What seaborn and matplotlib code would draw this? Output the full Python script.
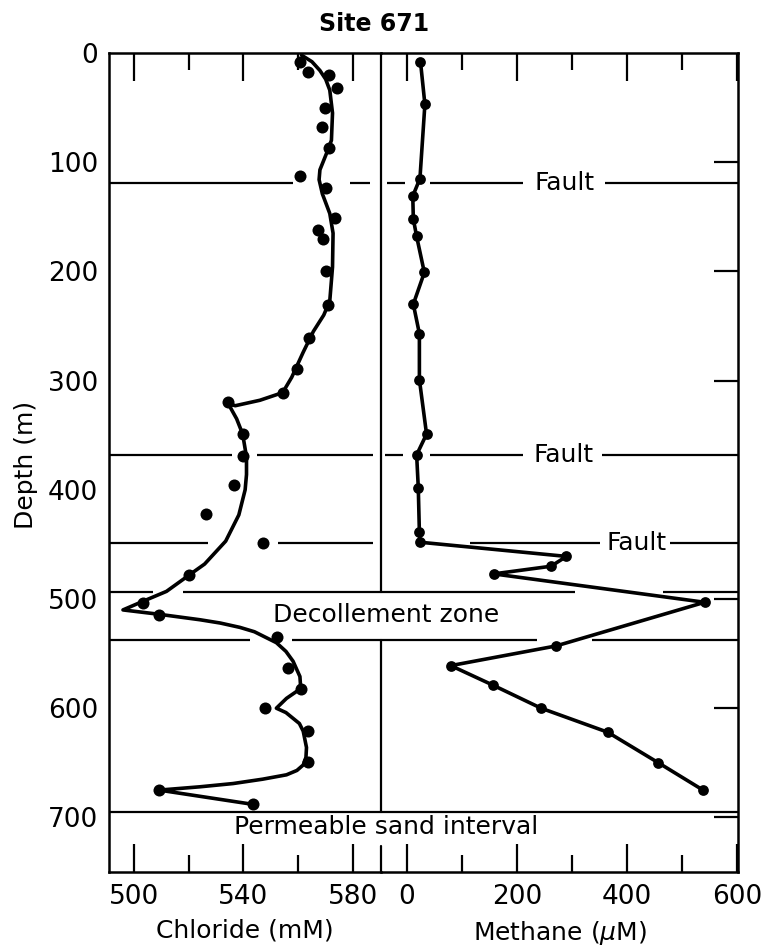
import numpy as np
import pandas as pd
import seaborn as sns
import matplotlib.pyplot as plt

# Chloride samples (depth m, chloride mM)
cl_depth = [8, 17, 20, 32, 50, 68, 87, 113, 124, 151, 162, 170, 200, 231, 261, 289,
            311, 320, 349, 369, 396, 422, 449, 478, 504, 515, 535, 563, 582, 600,
            621, 649, 675, 688]
cl_value = [560.6, 563.6, 571.3, 574.2, 569.7, 568.5, 571.3, 560.6, 570.3, 573.4,
            567.3, 569.1, 570.1, 570.8, 564.0, 559.4, 554.3, 534.4, 539.7, 539.9,
            536.5, 526.3, 547.2, 520.2, 503.4, 509.2, 552.1, 556.3, 560.9, 548.0,
            563.6, 563.6, 509.2, 543.3]

# Hand-drawn chloride trend curve (depth m, chloride mM)
cl_curve_depth = [2, 8, 16, 24, 34, 55, 80, 92, 107, 116, 129, 147, 165, 196, 227,
                  240, 255, 274, 297, 311, 318, 323, 321, 335, 349, 370, 386, 400,
                  423, 447, 468, 478, 493, 502, 510, 514, 519, 522, 526, 530, 540,
                  548, 557, 571, 582, 591, 600, 604, 614, 621, 636, 645, 652, 657,
                  661, 665, 669, 672, 675, 688]
cl_curve_value = [561.2, 565.0, 567.9, 570.0, 571.5, 572.5, 572.1, 570.3, 567.9, 567.6,
                  568.8, 571.5, 572.7, 572.5, 571.5, 569.3, 565.5, 561.8, 557.6, 554.3,
                  546.0, 537.0, 534.4, 537.5, 539.7, 541.1, 541.1, 540.6, 538.3, 533.5,
                  525.8, 520.2, 511.9, 503.4, 496.0, 509.2, 524.1, 531.5, 538.7, 544.0,
                  552.0, 555.5, 558.1, 560.6, 560.9, 555.7, 552.0, 555.5, 560.4, 561.8,
                  563.0, 562.8, 561.8, 559.5, 555.7, 547.0, 536.2, 524.0, 509.2, 543.3]

# Methane samples (depth m, methane uM)
ch4_depth = [8, 47, 115, 131, 152, 168, 201, 230, 257, 299, 349, 368, 398, 439, 448,
             461, 470, 477, 503, 543, 561, 579, 600, 622, 650, 675]
ch4_value = [25, 33, 24, 11, 12, 18, 32, 12, 23, 23, 36, 18, 21, 23, 24,
             290, 262, 158, 541, 271, 80, 157, 244, 365, 457, 538]

# Structural horizons (depth m)
fault_depths = [119, 368, 449]
decollement = [494, 538]
sand_top = 695

W, H = 763, 952
sns.set_style("white")
plt.rcParams['font.family'] = ['DejaVu Sans']
plt.rcParams['text.color'] = 'black'
plt.rcParams['axes.labelcolor'] = 'black'
plt.rcParams['xtick.color'] = 'black'
plt.rcParams['ytick.color'] = 'black'
fig = plt.figure(figsize=(W / 100, H / 100), dpi=100)

x0, x_div, x1 = 109, 381, 738
y_top, y_bot = 53, 872
bottom = (H - y_bot) / H
height = (y_bot - y_top) / H
fs = 18

# overlay for horizons and labels (drawn beneath the panels)
ov = fig.add_axes([x0 / W, bottom, (x1 - x0) / W, height])
ov.set_xlim(0, 1)
ov.set_ylim(750, 0)
ov.axis('off')

ax1 = fig.add_axes([x0 / W, bottom, (x_div - x0) / W, height])
ax2 = fig.add_axes([x_div / W, bottom, (x1 - x_div) / W, height])
for ax in (ax1, ax2):
    ax.set_facecolor('none')

lw_h = 1.6
k = 'black'
# fault lines, segments in overlay fraction (gaps where data crosses)
fault_segs = [
    [(0, 0.2925), (0.383, 0.415), (0.442, 0.4706), (0.510, 0.658), (0.789, 1.0)],
    [(0, 0.1955), (0.235, 0.420), (0.439, 0.467), (0.510, 0.658), (0.784, 1.0)],
    [(0, 0.157), (0.269, 0.420), (0.574, 0.781), (0.892, 1.0)],
]
fault_text_x = [0.725, 0.722, 0.838]
for d, segs, tx in zip(fault_depths, fault_segs, fault_text_x):
    for a, b in segs:
        ov.plot([a, b], [d, d], color=k, lw=lw_h, solid_capstyle='butt')
    ov.text(tx, d, 'Fault', ha='center', va='center', fontsize=fs)

dec_segs = [
    [(0, 0.070), (0.118, 0.741), (0.881, 1.0)],
    [(0, 0.224), (0.291, 0.680), (0.768, 1.0)],
]
for d, segs in zip(decollement, dec_segs):
    for a, b in segs:
        ov.plot([a, b], [d, d], color=k, lw=lw_h, solid_capstyle='butt')
ov.plot([0, 1], [sand_top, sand_top], color=k, lw=lw_h)
ov.text(0.44, np.mean(decollement) - 1, 'Decollement zone', ha='center', va='center', fontsize=fs)
ov.text(0.44, 709, 'Permeable sand interval', ha='center', va='center', fontsize=fs)

# divider between panels, broken by the decollement and sand bands
xd = (x_div - x0) / (x1 - x0)
ov.plot([xd, xd], [0, decollement[0]], color=k, lw=lw_h)
ov.plot([xd, xd], [decollement[1], sand_top], color=k, lw=lw_h)
ov.plot([xd, xd], [726, 750], color=k, lw=lw_h)

# chloride panel
sns.lineplot(x=cl_curve_value, y=cl_curve_depth, sort=False, estimator=None,
             color=k, lw=2.6, ax=ax1)
sns.scatterplot(x=cl_value, y=cl_depth, color=k, s=75, linewidth=0, ax=ax1, zorder=3)
ax1.set_xlim(490.9, 590.2)
ax1.set_ylim(750, 0)

# methane panel
sns.lineplot(x=ch4_value, y=ch4_depth, sort=False, estimator=None,
             color=k, lw=2.6, ax=ax2)
sns.scatterplot(x=ch4_value, y=ch4_depth, color=k, s=60, linewidth=0, ax=ax2, zorder=3)
ax2.set_xlim(-46.7, 601.5)
ax2.set_ylim(750, 0)

ax1.spines['right'].set_visible(False)
ax2.spines['left'].set_visible(False)
for ax in (ax1, ax2):
    for s in ax.spines.values():
        s.set_linewidth(1.8)
        s.set_color(k)

ax1.set_xticks([500, 540, 580])
ax1.set_xticks([520, 560], minor=True)
ax2.set_xticks([0, 200, 400, 600])
ax2.set_xticks([100, 300, 500], minor=True)
ax1.set_yticks([0, 100, 200, 300, 400, 500, 600, 700])
ax2.yaxis.tick_right()
ax2.set_yticks([100, 200, 300, 500, 600, 700])

for ax in (ax1, ax2):
    ax.tick_params(axis='x', which='major', direction='in', top=True, bottom=True,
                   length=20, width=1.6, labelsize=19, pad=9)
    ax.tick_params(axis='x', which='minor', direction='in', top=True, bottom=True,
                   length=12, width=1.6)
    ax.tick_params(axis='y', which='major', direction='in', length=17, width=1.6,
                   labelsize=19, pad=8)
ax2.tick_params(axis='y', labelright=False, labelleft=False, left=False, right=True)

ax1.set_xlabel('Chloride (mM)', fontsize=fs, labelpad=6)
ax2.set_xlabel('Methane ($\\mu$M)', fontsize=fs, labelpad=6)
ax1.set_ylabel('')
ax2.set_ylabel('')

fig.text(26 / W, 1 - 465 / H, 'Depth (m)', rotation=90, ha='center', va='center', fontsize=fs)
fig.text(374 / W, 1 - 24 / H, 'Site 671', ha='center', va='center', fontsize=17,
         fontweight='bold')

fig.savefig('out.png', dpi=100)
